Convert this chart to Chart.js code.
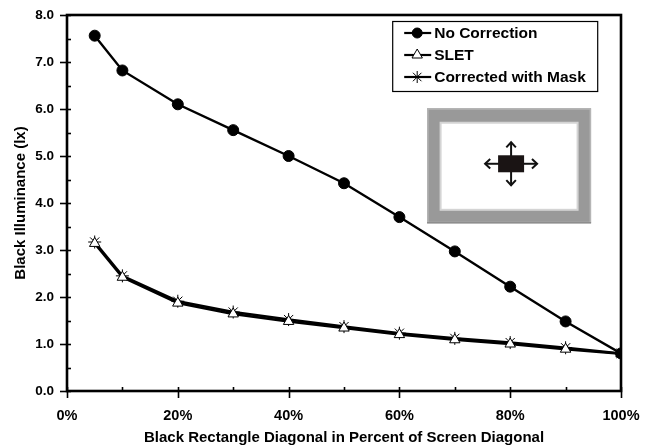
<!DOCTYPE html>
<html><head><meta charset="utf-8">
<script src="https://cdn.jsdelivr.net/npm/chart.js@4/dist/chart.umd.min.js"></script>
<style>html,body{margin:0;padding:0;background:#fff}#c{display:block}</style>
</head><body>
<canvas id="c" width="652" height="445"></canvas>
<script>
const xValues = [5, 10, 20, 30, 40, 50, 60, 70, 80, 90, 100];
const noCorrection = [7.56, 6.82, 6.10, 5.55, 5.00, 4.42, 3.70, 2.97, 2.22, 1.48, 0.80];
const slet = [3.14, 2.42, 1.87, 1.64, 1.48, 1.34, 1.20, 1.09, 1.00, 0.89, 0.79];
const corrected = [3.17, 2.45, 1.91, 1.68, 1.52, 1.37, 1.23, 1.12, 1.03, 0.92, 0.80];
const seriesNames = ['No Correction', 'SLET', 'Corrected with Mask'];
const xTitle = 'Black Rectangle Diagonal in Percent of Screen Diagonal';
const yTitle = 'Black Illuminance (lx)';

const FONT = 'Liberation Sans, Arial, sans-serif';
const pts = arr => arr.map((v, i) => ({x: xValues[i], y: v}));

const framePlugin = {
  id: 'frame',
  afterDraw(chart) {
    const ctx = chart.ctx, a = chart.chartArea;
    const xs = chart.scales.x, ys = chart.scales.y;
    ctx.save();
    ctx.strokeStyle = '#000';
    ctx.lineWidth = 2.6;
    ctx.strokeRect(a.left, a.top, a.right - a.left, a.bottom - a.top);
    // ticks
    ctx.lineWidth = 1.6;
    xs.ticks.forEach(t => {
      const px = Math.round(xs.getPixelForValue(t.value)) + 0.5;
      const major = t.value % 20 === 0;
      ctx.beginPath();
      ctx.moveTo(px, a.bottom - 4);
      ctx.lineTo(px, major ? a.bottom + 7 : a.bottom);
      ctx.stroke();
    });
    ys.ticks.forEach(t => {
      const py = Math.round(ys.getPixelForValue(t.value)) + 0.5;
      const major = Math.abs(t.value - Math.round(t.value)) < 1e-6;
      ctx.beginPath();
      ctx.moveTo(a.left + 4, py);
      ctx.lineTo(major ? a.left - 7 : a.left, py);
      ctx.stroke();
    });
    // inset picture
    const W = a.right - a.left, H = a.bottom - a.top;
    const ox = a.left + W * 0.650, oy = a.top + H * 0.248;
    const ow = W * 0.296, oh = H * 0.306;
    ctx.fillStyle = '#999';
    ctx.fillRect(ox, oy, ow, oh);
    ctx.strokeStyle = '#b5b5b5'; ctx.lineWidth = 1.5;
    ctx.strokeRect(ox + 0.75, oy + 0.75, ow - 1.5, oh - 1.5);
    ctx.strokeStyle = '#7d7d7d'; ctx.lineWidth = 1;
    ctx.beginPath(); ctx.moveTo(ox, oy + oh - 0.5); ctx.lineTo(ox + ow, oy + oh - 0.5); ctx.stroke();
    const ix = ox + 14, iy = oy + 15, iw = ow - 28, ih = oh - 29;
    ctx.fillStyle = '#d4d4d4';
    ctx.fillRect(ix - 1.5, iy - 1.5, iw + 3, ih + 3);
    ctx.fillStyle = '#fff';
    ctx.fillRect(ix + 0.5, iy + 0.5, iw - 1, ih - 1);
    const cx = ox + ow / 2 + 2, cy = oy + oh / 2 - 2;
    ctx.strokeStyle = '#111'; ctx.lineWidth = 2;
    const arrow = (x1, y1, x2, y2) => {
      ctx.beginPath(); ctx.moveTo(x1, y1); ctx.lineTo(x2, y2); ctx.stroke();
      const ang = Math.atan2(y2 - y1, x2 - x1), L = 7;
      ctx.beginPath();
      ctx.moveTo(x2 - L * Math.cos(ang - 0.75), y2 - L * Math.sin(ang - 0.75));
      ctx.lineTo(x2, y2);
      ctx.lineTo(x2 - L * Math.cos(ang + 0.75), y2 - L * Math.sin(ang + 0.75));
      ctx.stroke();
    };
    arrow(cx, cy, cx, cy - 21.5);
    arrow(cx, cy, cx, cy + 21.5);
    arrow(cx, cy, cx - 26, cy);
    arrow(cx, cy, cx + 26, cy);
    ctx.fillStyle = '#1a1414';
    ctx.fillRect(cx - 13, cy - 8.5, 26, 17);
    // legend
    const lx = a.left + W * 0.587, ly = a.top + 6, lw = 205, lh = 70;
    ctx.fillStyle = '#fff';
    ctx.fillRect(lx, ly, lw, lh);
    ctx.strokeStyle = '#000'; ctx.lineWidth = 1.2;
    ctx.strokeRect(lx + 0.5, ly + 0.5, lw, lh);
    ctx.font = 'bold 15.5px ' + FONT;
    ctx.textBaseline = 'middle';
    chart.data.datasets.forEach((ds, i) => {
      const ry = ly + 12 + i * 22;
      ctx.strokeStyle = '#000'; ctx.lineWidth = 2.2;
      ctx.beginPath(); ctx.moveTo(lx + 12, ry); ctx.lineTo(lx + 39, ry); ctx.stroke();
      ctx.lineWidth = 1;
      ctx.fillStyle = ds.backgroundColor;
      Chart.helpers.drawPoint(ctx, {pointStyle: ds.pointStyle, radius: ds.legendRadius, borderWidth: 1, rotation: 0}, lx + 25, ry);
      ctx.fillStyle = '#000';
      ctx.fillText(ds.label, lx + 42, ry + 0.5);
    });
    ctx.restore();
  }
};

new Chart(document.getElementById('c'), {
  type: 'scatter',
  data: {
    datasets: [
      {label: seriesNames[0], data: pts(noCorrection), showLine: true, borderColor: '#000', backgroundColor: '#000',
       borderWidth: 2.4, pointStyle: 'circle', pointRadius: 5.5, pointBorderWidth: 1, legendRadius: 5},
      {label: seriesNames[1], data: pts(slet), showLine: true, borderColor: '#000', backgroundColor: '#fff',
       borderWidth: 2.5, pointStyle: 'triangle', pointRadius: 6, pointBorderWidth: 1, legendRadius: 6},
      {label: seriesNames[2], data: pts(corrected), showLine: true, borderColor: '#000', backgroundColor: '#000',
       borderWidth: 2.5, pointStyle: 'star', pointRadius: 6.5, pointBorderWidth: 1, legendRadius: 6}
    ]
  },
  options: {
    responsive: false, animation: false,
    layout: {padding: {top: 15, right: 31, left: 0, bottom: 0}},
    plugins: {legend: {display: false}, tooltip: {enabled: false}},
    scales: {
      x: {
        type: 'linear', min: 0, max: 100,
        ticks: {stepSize: 10, padding: 16, color: '#000', font: {family: FONT, size: 14.5, weight: 'bold'},
          maxRotation: 0, autoSkip: false,
          callback: v => (v % 20 === 0 ? v + '%' : '')},
        grid: {display: true, drawOnChartArea: false, drawTicks: false},
        border: {display: false},
        title: {display: true, text: xTitle, color: '#000', font: {family: FONT, size: 15, weight: 'bold', lineHeight: 1}, padding: {top: 0, bottom: 0}},
        afterFit: s => { s.height = 54; s.paddingLeft = 0; s.paddingRight = 0; }
      },
      y: {
        min: 0, max: 8,
        ticks: {stepSize: 0.5, padding: 13, color: '#000', font: {family: FONT, size: 13.5, weight: 'bold'},
          autoSkip: false,
          callback: v => (Math.abs(v - Math.round(v)) < 1e-6 ? v.toFixed(1) : '')},
        grid: {display: true, drawOnChartArea: false, drawTicks: false},
        border: {display: false},
        title: {display: true, text: yTitle, color: '#000', font: {family: FONT, size: 15, weight: 'bold', lineHeight: 1.2}, padding: {top: 12, bottom: 0}},
        afterFit: s => { s.width = 67; s.paddingTop = 0; s.paddingBottom = 0; }
      }
    }
  },
  plugins: [framePlugin]
});
</script>
</body></html>
